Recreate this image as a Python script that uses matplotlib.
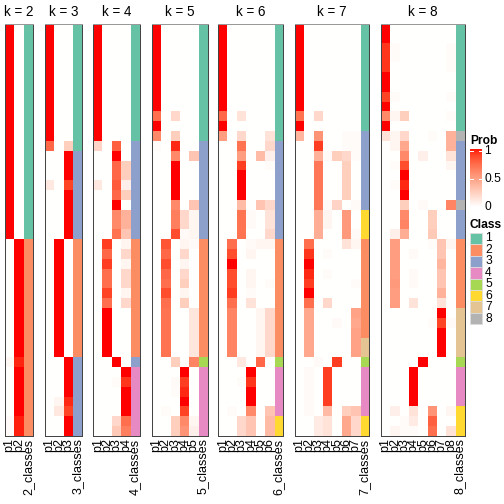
import matplotlib
matplotlib.use("Agg")
import matplotlib.pyplot as plt
from matplotlib.patches import Rectangle
import numpy as np

plt.rcParams['font.family'] = ['Liberation Sans', 'DejaVu Sans']

# membership probabilities per k, one row per sample (42 samples), columns p1..pk
prob_k2 = [[1, 0]] * 22 + [[0, 1]] * 12 + [[0.04, 0.96]] + [[0, 1]] * 5 + [[0.03, 0.97]] * 2
class_k2 = [1] * 22 + [2] * 20

prob_k3 = ([[1, 0, 0]] * 12 + [[0.75, 0, 0.25]] + [[0, 0, 1]] * 3 + [[0.12, 0, 0.88]]
           + [[0, 0, 1]] * 5 + [[0, 1, 0]] * 12 + [[0, 0, 1]] * 4
           + [[0, 0.05, 0.95], [0, 0.12, 0.88]] + [[0, 0, 1]] * 2)
class_k3 = [1] * 13 + [3] * 9 + [2] * 12 + [3] * 8

prob_k4 = ([[1, 0, 0, 0]] * 12 +
           [[0.22, 0, 0.78, 0], [0, 0, 1, 0], [0, 0, 0.75, 0.25], [0, 0, 0.75, 0.25],
            [0.12, 0, 0.8, 0.08], [0, 0, 0.75, 0.25], [0, 0, 1, 0], [0, 0, 0.6, 0.4],
            [0, 0, 0.6, 0.4], [0, 0, 0.7, 0.3],
            [0, 0.9, 0, 0.05], [0, 0.75, 0, 0.2], [0, 0.9, 0, 0.05], [0, 0.72, 0, 0.2],
            [0, 0.72, 0, 0.2], [0, 0.88, 0, 0.05], [0, 0.72, 0, 0.2]]
           + [[0, 1, 0, 0]] * 5 + [[0, 0, 1, 0], [0, 0, 0, 1], [0, 0, 0.02, 0.92]]
           + [[0, 0, 0, 1]] * 3 + [[0, 0, 0.2, 0.72], [0, 0, 0.28, 0.65]])
class_k4 = [1] * 12 + [3] * 10 + [2] * 12 + [3] + [4] * 7

prob_k5 = ([[1, 0, 0, 0, 0]] * 9 +
           [[0.72, 0, 0.2, 0, 0], [1, 0, 0, 0, 0], [0.6, 0, 0.25, 0, 0],
            [0.02, 0, 0.95, 0, 0], [0, 0, 0.6, 0, 0.3]]
           + [[0, 0, 1, 0, 0]] * 4 +
           [[0, 0, 0.6, 0, 0.3], [0, 0, 0.65, 0.2, 0.05], [0, 0, 0.65, 0.2, 0.05],
            [0, 0, 0.85, 0.03, 0.05],
            [0, 0.82, 0, 0.05, 0.03], [0, 0.75, 0, 0.2, 0], [0, 0.85, 0, 0.05, 0],
            [0, 0.75, 0, 0.2, 0], [0, 0.72, 0, 0.25, 0], [0, 0.85, 0, 0.05, 0],
            [0, 0.72, 0, 0.25, 0]]
           + [[0, 0.7, 0, 0, 0.13]] * 5 +
           [[0, 0, 0.25, 0, 0.62], [0, 0, 0, 1, 0], [0, 0, 0.03, 0.9, 0],
            [0, 0, 0.02, 0.95, 0], [0, 0, 0, 1, 0], [0, 0.02, 0, 0.88, 0],
            [0, 0, 0.25, 0.6, 0.05], [0, 0, 0.25, 0.55, 0.08]])
class_k5 = [1] * 12 + [3] * 10 + [2] * 12 + [5] + [4] * 7

prob_k6 = ([[1, 0, 0, 0, 0, 0]] * 9 +
           [[0.75, 0, 0.15, 0, 0, 0], [1, 0, 0, 0, 0, 0], [0.5, 0, 0.2, 0, 0, 0.15],
            [0, 0, 0.7, 0, 0, 0.2], [0, 0, 0.5, 0, 0.35, 0.08], [0, 0, 0.9, 0, 0, 0.02]]
           + [[0, 0, 1, 0, 0, 0]] * 3 +
           [[0, 0, 0.35, 0, 0.3, 0.2], [0, 0, 0.7, 0.03, 0, 0.15], [0, 0, 0.7, 0.03, 0, 0.15],
            [0, 0, 0.7, 0, 0, 0.2],
            [0, 0.72, 0, 0.03, 0.05, 0.05], [0, 0.85, 0, 0.05, 0, 0], [0, 1, 0, 0, 0, 0],
            [0, 0.85, 0, 0.05, 0, 0], [0, 0.85, 0, 0.05, 0, 0.02], [0, 0.9, 0, 0.02, 0, 0],
            [0, 0.72, 0, 0.15, 0, 0]]
           + [[0, 0.62, 0, 0, 0.05, 0.2]] * 5 +
           [[0, 0, 0.12, 0, 0.75, 0], [0, 0, 0, 1, 0, 0], [0, 0, 0.02, 0.92, 0, 0],
            [0, 0, 0, 1, 0, 0], [0, 0, 0, 1, 0, 0], [0, 0.02, 0, 0.6, 0, 0.3]]
           + [[0, 0, 0.2, 0.3, 0, 0.35]] * 2)
class_k6 = [1] * 12 + [3] * 10 + [2] * 12 + [5] + [4] * 5 + [6] * 2

prob_k7 = ([[1, 0, 0, 0, 0, 0, 0]] * 9 +
           [[0.7, 0, 0.2, 0, 0, 0, 0], [1, 0, 0, 0, 0, 0, 0],
            [0.38, 0, 0.55, 0, 0, 0.02, 0.02], [0, 0, 0.9, 0, 0, 0.02, 0.02],
            [0, 0, 0.4, 0.03, 0.25, 0.2, 0.02]]
           + [[0, 0, 0.68, 0, 0, 0.25, 0]] * 4 +
           [[0, 0, 0.68, 0.03, 0.22, 0, 0.03], [0, 0, 0.42, 0.05, 0, 0.52, 0],
            [0, 0, 0.42, 0.05, 0, 0.52, 0], [0, 0, 0.42, 0, 0, 0.52, 0.03],
            [0, 0.72, 0, 0, 0, 0.15, 0.05], [0, 0.92, 0, 0.02, 0, 0, 0],
            [0, 1, 0, 0, 0, 0, 0], [0, 0.95, 0, 0.02, 0, 0, 0], [0, 0.9, 0, 0, 0, 0, 0.02],
            [0, 1, 0, 0, 0, 0, 0], [0, 0.72, 0, 0.2, 0, 0, 0],
            [0, 0.45, 0, 0, 0, 0, 0.48], [0, 0.45, 0, 0, 0.03, 0, 0.45]]
           + [[0, 0.45, 0, 0, 0, 0, 0.48]] * 3 + [[0, 0, 0.03, 0, 0.9, 0, 0]]
           + [[0, 0.03, 0, 0.9, 0, 0, 0]] * 4 + [[0, 0.03, 0, 0.35, 0, 0.25, 0.3]]
           + [[0, 0, 0.1, 0.15, 0, 0.45, 0.2]] * 2)
class_k7 = [1] * 11 + [3] * 8 + [6] * 3 + [2] * 10 + [7] * 2 + [5] + [4] * 5 + [6] * 2

prob_k8 = ([[1, 0, 0, 0, 0, 0, 0, 0]] * 2 +
           [[0.92, 0.02, 0, 0, 0, 0, 0, 0.02], [0.92, 0.02, 0, 0, 0, 0, 0, 0.02],
            [0.92, 0, 0, 0, 0, 0, 0, 0.02], [1, 0, 0, 0, 0, 0, 0, 0], [1, 0, 0, 0, 0, 0, 0, 0],
            [0.88, 0.02, 0, 0, 0, 0, 0, 0.02], [1, 0, 0, 0, 0, 0, 0, 0],
            [0.6, 0.05, 0.25, 0, 0, 0, 0, 0.02], [1, 0, 0, 0, 0, 0, 0, 0],
            [0.15, 0.05, 0.2, 0, 0, 0.02, 0, 0.4], [0, 0.05, 0.45, 0, 0, 0, 0, 0.4],
            [0, 0, 0.6, 0, 0.08, 0, 0, 0.15], [0, 0.02, 0.85, 0, 0, 0, 0, 0.05],
            [0, 0, 1, 0, 0, 0, 0, 0], [0, 0.02, 0.95, 0, 0, 0, 0, 0], [0, 0, 1, 0, 0, 0, 0, 0],
            [0, 0, 0.25, 0, 0.03, 0, 0, 0.62], [0, 0, 0.6, 0, 0, 0.25, 0, 0],
            [0, 0, 0.62, 0, 0, 0.25, 0, 0], [0, 0.08, 0.42, 0, 0, 0.28, 0, 0],
            [0, 0.5, 0, 0, 0, 0.02, 0.3, 0.05], [0, 0.5, 0, 0.03, 0, 0, 0.3, 0],
            [0, 0.5, 0, 0, 0, 0, 0.38, 0], [0, 0.5, 0, 0.03, 0, 0, 0.3, 0],
            [0, 0.52, 0, 0.03, 0, 0, 0.3, 0], [0, 0.5, 0, 0, 0, 0, 0.4, 0],
            [0, 0.5, 0, 0.15, 0, 0, 0.15, 0], [0, 0, 0, 0, 0, 0, 1, 0],
            [0, 0, 0, 0, 0, 0.02, 0.88, 0.03]]
           + [[0, 0, 0, 0, 0, 0, 1, 0]] * 3 + [[0, 0, 0, 0, 1, 0, 0, 0]]
           + [[0, 0, 0, 1, 0, 0, 0, 0]] * 4 +
           [[0, 0.08, 0, 0.15, 0, 0.55, 0, 0.05], [0, 0, 0.02, 0.1, 0, 0.78, 0, 0],
            [0, 0.05, 0.02, 0.02, 0, 0.72, 0, 0.15]])
class_k8 = [1] * 11 + [8] + [3] * 6 + [8] + [3] * 3 + [2] * 7 + [7] * 5 + [5] + [4] * 4 + [6] * 3

ks = [2, 3, 4, 5, 6, 7, 8]
probs = [prob_k2, prob_k3, prob_k4, prob_k5, prob_k6, prob_k7, prob_k8]
classes = [class_k2, class_k3, class_k4, class_k5, class_k6, class_k7, class_k8]

class_colors = {1: '#66C2A5', 2: '#FC8D62', 3: '#8DA0CB', 4: '#E78AC3',
                5: '#A6D854', 6: '#FFD92F', 7: '#E5C494', 8: '#B3B3B3'}


# white -> red interpolated in Lab space (like colorRamp2)
def lab2rgb(L, a, b):
    fy = (L + 16) / 116.0
    fx = fy + a / 500.0
    fz = fy - b / 200.0

    def finv(t):
        return np.where(t ** 3 > 0.008856, t ** 3, (t - 16 / 116.0) / 7.787)
    X = 0.95047 * finv(fx)
    Y = finv(fy)
    Z = 1.08883 * finv(fz)
    r = 3.2406 * X - 1.5372 * Y - 0.4986 * Z
    g = -0.9689 * X + 1.8758 * Y + 0.0415 * Z
    bb = 0.0557 * X - 0.2040 * Y + 1.0570 * Z
    rgb = np.stack([r, g, bb], axis=-1)
    rgb = np.where(rgb <= 0.0031308, 12.92 * rgb, 1.055 * np.clip(rgb, 0, None) ** (1 / 2.4) - 0.055)
    return np.clip(rgb, 0, 1)


def prob_color(v):
    v = np.asarray(v, dtype=float)
    L = 100 + (53.24 - 100) * v
    a = 80.09 * v
    b = 67.20 * v
    return lab2rgb(L, a, b)


W, H = 504, 504
fig = plt.figure(figsize=(7, 7), dpi=72)


def px_axes(x0, y0, w, h):
    return fig.add_axes([x0 / W, 1 - (y0 + h) / H, w / W, h / H])


top, bottom = 23.7, 436.0
cell = 9.3
lefts = [5, 45, 93.3, 151.7, 218.3, 295, 381]

for k, pm, cl, left in zip(ks, probs, classes, lefts):
    pm = np.array(pm, dtype=float)
    n = pm.shape[0]
    img = np.ones((n, k + 1, 3))
    img[:, :k, :] = prob_color(pm)
    for i, c in enumerate(cl):
        img[i, k, :] = matplotlib.colors.to_rgb(class_colors[c])
    width = cell * (k + 1)
    ax = px_axes(left, top, width, bottom - top)
    ax.imshow(img, aspect='auto', interpolation='nearest', extent=(0, k + 1, n, 0))
    ax.set_xticks([])
    ax.set_yticks([])
    for s in ax.spines.values():
        s.set_color('#444444')
        s.set_linewidth(1.0)
    ax.spines['top'].set_color('#999999')
    fig.text((left + width / 2) / W, 1 - 12.5 / H, "k = %d" % k, ha='center', va='center', fontsize=13.5)
    labels = ["p%d" % (j + 1) for j in range(k)] + ["%d_classes" % k]
    for j, lab in enumerate(labels):
        fig.text((left + cell * (j + 0.5)) / W, 1 - 438.5 / H, lab, rotation=90,
                 ha='center', va='top', fontsize=12.5)

# Prob legend
fig.text(470 / W, 1 - 140.5 / H, "Prob", fontweight='bold', fontsize=12, ha='left', va='center')
cax = px_axes(470, 148.5, 11.7, 58.5)
grad = np.linspace(1, 0, 100)[:, None]
cax.imshow(prob_color(grad), aspect='auto', extent=(0, 1, 0, 1))
cax.set_xlim(0, 1)
cax.set_ylim(0, 1)
cax.axis('off')
for v, lab in [(1, "1"), (0.5, "0.5"), (0, "0")]:
    yy = 206.5 - v * 56
    yf = (207 - yy) / 58.5
    cax.plot([0, 0.25], [yf, yf], color='white', lw=1)
    cax.plot([0.75, 1], [yf, yf], color='white', lw=1)
    fig.text(484.5 / W, 1 - yy / H, lab, fontsize=12, ha='left', va='center')

# Class legend
fig.text(470 / W, 1 - 225.5 / H, "Class", fontweight='bold', fontsize=12, ha='left', va='center')
for i in range(8):
    y0 = 232.7 + i * 11.45
    fig.patches.append(Rectangle((470 / W, 1 - (y0 + 11.45) / H), 11.7 / W, 11.45 / H,
                                 transform=fig.transFigure, facecolor=class_colors[i + 1],
                                 edgecolor='#dddddd', lw=0.8))
    fig.text(485 / W, 1 - (y0 + 5.7) / H, str(i + 1), fontsize=12, ha='left', va='center')

fig.savefig("out.png", dpi=72)
